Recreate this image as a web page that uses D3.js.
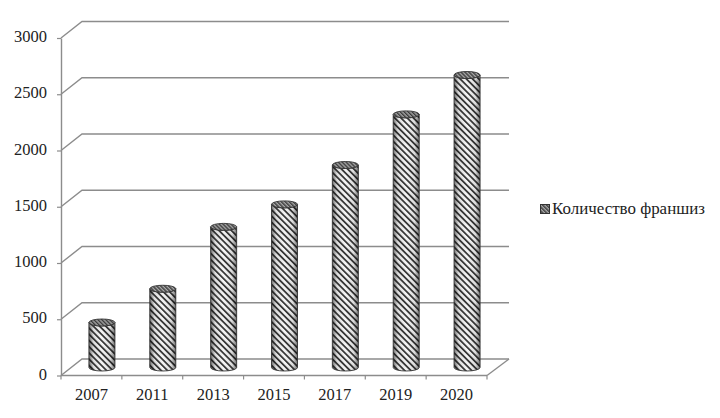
<!DOCTYPE html>
<html><head><meta charset="utf-8">
<script src="https://cdn.jsdelivr.net/npm/d3@7/dist/d3.min.js"></script>
<style>html,body{margin:0;padding:0;background:#fff}svg{display:block}text{font-family:"Liberation Serif",serif;fill:#222}</style>
</head><body><div id="c"></div>
<script>
const categories=["2007","2011","2013","2015","2017","2019","2020"];
const seriesValues=[400,700,1250,1450,1800,2250,2600];
const yTicks=[0,500,1000,1500,2000,2500,3000];
const seriesName="Количество франшиз";
const W=720,H=418,left=61,right=487,front0=375.5,front3000=38,dx=21,dy=16.5;
const svg=d3.select("#c").append("svg").attr("width",W).attr("height",H);
const x=d3.scaleBand().domain(categories).range([left,right]);
const y=d3.scaleLinear().domain([0,3000]).range([front0,front3000]);
const defs=svg.append("defs");
function hatch(id,size,sw,bg,ink){
  const p=defs.append("pattern").attr("id",id).attr("patternUnits","userSpaceOnUse")
    .attr("width",size).attr("height",size).attr("patternTransform","rotate(-45)");
  p.append("rect").attr("width",size).attr("height",size).attr("fill",bg);
  p.append("rect").attr("width",sw).attr("height",size).attr("fill",ink);
}
hatch("h",4.4,1.8,"#f6f6f6","#3a3a3a");
hatch("hTop",2.8,1.4,"#a8a8a8","#3a3a3a");
const edge=defs.append("linearGradient").attr("id","edge");
[[0,0.55],[0.18,0.1],[0.5,0],[0.82,0.1],[1,0.55]].forEach(([o,a])=>
  edge.append("stop").attr("offset",o).attr("stop-color","#000").attr("stop-opacity",a));
defs.append("filter").attr("id","soft").append("feGaussianBlur").attr("stdDeviation",0.35);
const grid="#8c8c8c";
const gl=svg.append("g").attr("fill","none").attr("stroke",grid).attr("stroke-width",1.4);
gl.selectAll("path.g").data(yTicks).join("path").attr("class","g")
  .attr("d",d=>d3.line()([[left,y(d)],[left+dx,y(d)-dy],[right+dx+1,y(d)-dy]]));
gl.append("path").attr("d",d3.line()([[right,front0],[right+dx+1,front0-dy]]));
gl.append("path").attr("d",d3.line()([[left,front0],[right,front0]]));
const ya=svg.append("g").attr("transform",`translate(${left},0)`)
  .call(d3.axisLeft(y).tickValues(yTicks).tickFormat(d3.format("d")).tickSize(4).tickSizeOuter(0).tickPadding(10));
ya.select(".domain").attr("stroke",grid).attr("stroke-width",1.4);
ya.selectAll("line").attr("stroke",grid).attr("stroke-width",1.2);
ya.selectAll("text").attr("font-size",16.5).attr("dy","0.22em").attr("fill","#222");
ya.attr("font-family",null);
const xa=svg.append("g").attr("transform",`translate(0,${front0})`)
  .call(d3.axisBottom(x).tickSize(0).tickPadding(13));
xa.select(".domain").remove();
xa.selectAll("text").attr("font-size",16.5).attr("fill","#222");
xa.attr("font-family",null);
svg.append("g").attr("stroke",grid).attr("stroke-width",1.2)
  .selectAll("line").data(categories.concat("end")).join("line")
  .attr("x1",d=>d==="end"?right:x(d)).attr("x2",d=>d==="end"?right:x(d))
  .attr("y1",front0).attr("y2",front0+4);
const bw=26,ry=3.5,sink=8;
const bars=svg.append("g").attr("filter","url(#soft)").selectAll("g").data(seriesValues).join("g")
  .attr("transform",(d,i)=>`translate(${x(categories[i])+x.bandwidth()/2+dx/2},0)`);
const rx=bw/2;
const body=d=>{
  const t=y(d)-sink,b=y(0)-sink;
  return `M${-rx},${t}L${-rx},${b}A${rx},${ry} 0 0 0 ${rx},${b}L${rx},${t}A${rx},${ry} 0 0 1 ${-rx},${t}Z`;
};
bars.append("path").attr("fill","url(#h)").attr("d",body);
bars.append("path").attr("fill","url(#edge)").attr("stroke","#333").attr("stroke-width",0.9).attr("d",body);
bars.append("ellipse").attr("cx",0).attr("cy",d=>y(d)-sink).attr("rx",rx).attr("ry",ry)
  .attr("fill","url(#hTop)").attr("stroke","#333").attr("stroke-width",0.9);
const lg=svg.append("g");
lg.append("rect").attr("x",540.5).attr("y",204.5).attr("width",9).attr("height",9)
  .attr("fill","url(#hTop)").attr("stroke","#333");
lg.append("text").attr("x",552).attr("y",214).attr("font-size",16).attr("textLength",153)
  .attr("lengthAdjust","spacingAndGlyphs").text(seriesName);
</script></body></html>
